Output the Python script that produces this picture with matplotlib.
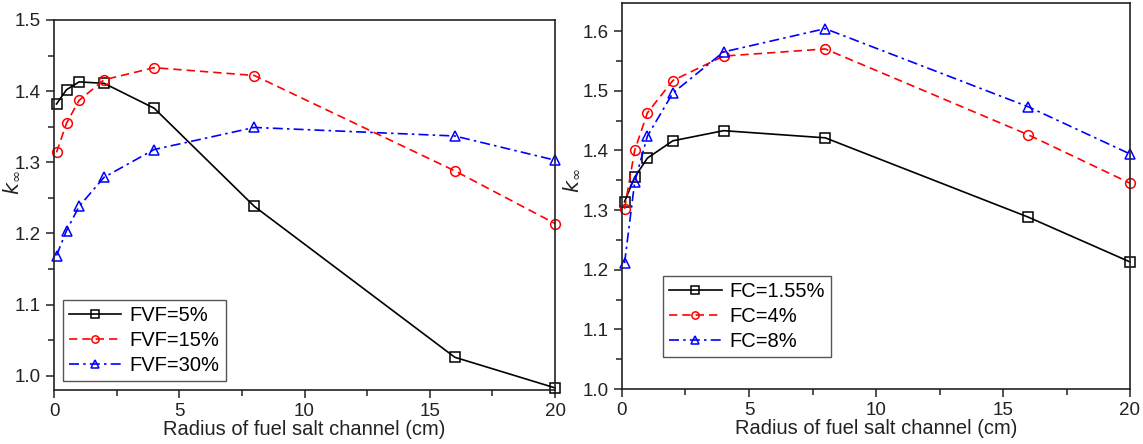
import matplotlib
matplotlib.use('Agg')
import matplotlib.pyplot as plt
from matplotlib.ticker import MultipleLocator

plt.rcParams['font.family'] = ['Liberation Sans', 'DejaVu Sans']

# radius of fuel salt channel (cm)
radius = [0.1, 0.5, 1, 2, 4, 8, 16, 20]

# left panel: fuel volume fraction
fvf_labels = ['FVF=5%', 'FVF=15%', 'FVF=30%']
fvf_5 = [1.382, 1.402, 1.413, 1.411, 1.376, 1.238, 1.026, 0.983]
fvf_15 = [1.314, 1.355, 1.387, 1.416, 1.433, 1.422, 1.288, 1.214]
fvf_30 = [1.169, 1.204, 1.238, 1.279, 1.318, 1.349, 1.337, 1.303]

# right panel: fuel concentration
fc_labels = ['FC=1.55%', 'FC=4%', 'FC=8%']
fc_155 = [1.314, 1.355, 1.387, 1.416, 1.433, 1.421, 1.288, 1.213]
fc_4 = [1.302, 1.400, 1.463, 1.517, 1.558, 1.570, 1.426, 1.345]
fc_8 = [1.211, 1.347, 1.424, 1.496, 1.565, 1.604, 1.473, 1.394]

styles = [
    dict(color='black', linestyle='-', marker='s'),
    dict(color='red', linestyle='--', marker='o', dashes=(5, 3)),
    dict(color='blue', linestyle='-.', marker='^', dashes=(6, 2.5, 1.5, 2.5)),
]

fig = plt.figure(figsize=(11.43, 4.44), dpi=100)
ax1 = fig.add_axes([54/1143, 54/444, 501/1143, 370/444])
ax2 = fig.add_axes([622/1143, 55/444, 508/1143, 386/444])


def draw(ax, series, labels, ylim, legend_anchor, ylab_pos):
    for y, lab, st in zip(series, labels, styles):
        ax.plot(radius, y, label=lab, linewidth=1.2, markersize=7,
                markerfacecolor='none', markeredgewidth=1.1, clip_on=False, **st)
    ax.set_xlim(0, 20)
    ax.set_ylim(*ylim)
    ax.xaxis.set_major_locator(MultipleLocator(5))
    ax.xaxis.set_minor_locator(MultipleLocator(2.5))
    ax.yaxis.set_major_locator(MultipleLocator(0.1))
    ax.yaxis.set_minor_locator(MultipleLocator(0.05))
    ax.tick_params(which='both', direction='out', top=False, right=False,
                   labelsize=13.5, width=1.1, colors='#222222', labelcolor='#222222')
    ax.tick_params(which='major', length=6)
    ax.tick_params(which='minor', length=4)
    for sp in ax.spines.values():
        sp.set_linewidth(1.2)
        sp.set_color('#222222')
    ax.set_xlabel('Radius of fuel salt channel (cm)', fontsize=14.5, labelpad=0,
                  color='#222222')
    ax.set_ylabel(r'$k_\infty$', fontsize=15, color='#222222')
    ax.yaxis.set_label_coords(*ylab_pos)
    leg = ax.legend(loc='lower left', bbox_to_anchor=legend_anchor, fontsize=14.5,
                    fancybox=False, edgecolor='#555555', framealpha=1,
                    handlelength=2.6, borderpad=0.3, labelspacing=0.3,
                    handletextpad=0.4, borderaxespad=0, markerscale=0.75)
    leg.get_frame().set_linewidth(1.0)


draw(ax1, [fvf_5, fvf_15, fvf_30], fvf_labels, (0.98, 1.5), (0.018, 0.024), (-0.065, 0.56))
draw(ax2, [fc_155, fc_4, fc_8], fc_labels, (1.0, 1.647), (0.081, 0.083), (-0.08, 0.54))

fig.savefig('out.png', dpi=100)
